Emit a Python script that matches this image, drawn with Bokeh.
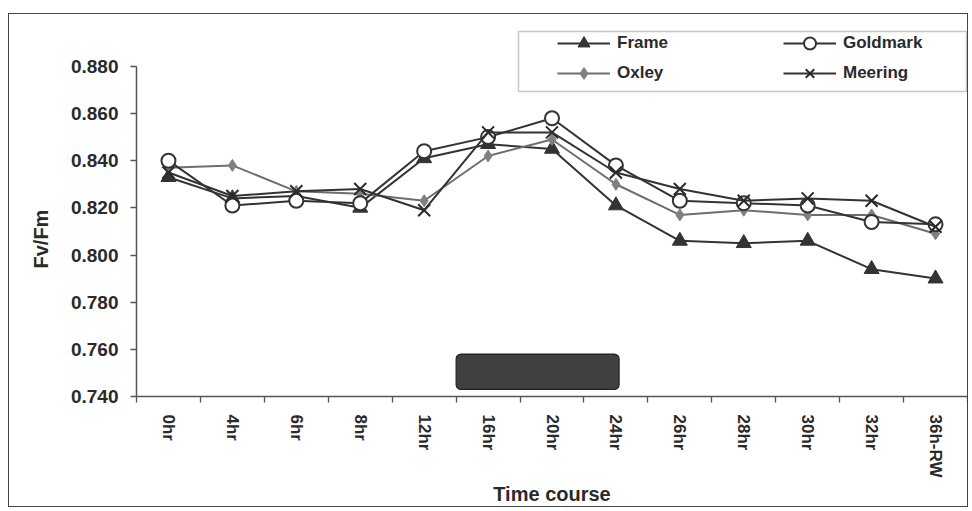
from bokeh.plotting import figure
from bokeh.models import (FixedTicker, PrintfTickFormatter, Legend, LegendItem,
                          BoxAnnotation, Range1d)
from bokeh.embed import file_html
from bokeh.resources import INLINE

# Sampling times (category labels on the x axis)
times = ["0hr", "4hr", "6hr", "8hr", "12hr", "16hr", "20hr", "24hr",
         "26hr", "28hr", "30hr", "32hr", "36h-RW"]

# Fv/Fm for each cultivar
frame = [0.833, 0.824, 0.825, 0.820, 0.841, 0.847, 0.845, 0.821,
         0.806, 0.805, 0.806, 0.794, 0.790]
goldmark = [0.840, 0.821, 0.823, 0.822, 0.844, 0.850, 0.858, 0.838,
            0.823, 0.822, 0.821, 0.814, 0.813]
oxley = [0.837, 0.838, 0.827, 0.826, 0.823, 0.842, 0.849, 0.830,
         0.817, 0.819, 0.817, 0.817, 0.809]
meering = [0.835, 0.825, 0.827, 0.828, 0.819, 0.852, 0.852, 0.835,
           0.828, 0.823, 0.824, 0.823, 0.812]

# Y axis ticks
y_ticks = [0.740, 0.760, 0.780, 0.800, 0.820, 0.840, 0.860, 0.880]

# Stress period bar: from the 12hr/16hr boundary to the 24hr sample
stress_start = 4.5
stress_end = 7.05
stress_low = 0.743
stress_high = 0.758

xs = list(range(len(times)))
FONT = "Liberation Sans"
INK = "#2a2a2a"

# Head-room above 0.880 leaves space for the legend inside the plot area
Y_TOP = 0.8986

p = figure(width=960, height=494, output_backend="svg", toolbar_location=None,
           x_range=Range1d(-0.5, len(times) - 0.5),
           y_range=Range1d(y_ticks[0], Y_TOP),
           min_border_left=127, min_border_right=2,
           min_border_top=8, min_border_bottom=111,
           title="Fv/Fm", title_location="left")
p.styles = {"margin-left": "8px", "margin-top": "13px",
            "border": "1.5px solid #444444"}
p.background_fill_color = "white"
p.border_fill_color = "white"
p.outline_line_color = None
p.grid.visible = False

# y axis title, centred on the 0.740-0.880 span rather than the whole frame
p.title.align = "left"
p.title.offset = 128
p.title.standoff = 28
p.title.vertical_align = "top"
p.title.text_font = FONT
p.title.text_font_style = "bold"
p.title.text_font_size = "20px"
p.title.text_color = INK

# x axis: labels at category centres, tick marks on the boundaries
p.xaxis.ticker = FixedTicker(ticks=xs, minor_ticks=[i - 0.5 for i in range(len(times) + 1)])
p.xaxis.major_label_overrides = {i: t for i, t in enumerate(times)}
p.xaxis.major_label_orientation = "vertical"
p.xaxis.major_tick_out = 0
p.xaxis.major_tick_in = 0
p.xaxis.minor_tick_out = 6
p.xaxis.minor_tick_in = 0
p.xaxis.major_label_standoff = 12
p.xaxis.axis_label = "Time course"
p.xaxis.axis_label_standoff = 3

# y axis, drawn only over the tick span
p.yaxis.ticker = FixedTicker(ticks=y_ticks, minor_ticks=[])
p.yaxis.formatter = PrintfTickFormatter(format="%.3f")
p.yaxis.bounds = (y_ticks[0], y_ticks[-1])
p.yaxis.major_tick_out = 6
p.yaxis.major_tick_in = 0
p.yaxis.major_label_standoff = 12

for ax in (p.xaxis[0], p.yaxis[0]):
    ax.axis_line_color = "#555555"
    ax.axis_line_width = 1.5
    ax.major_tick_line_color = "#555555"
    ax.minor_tick_line_color = "#555555"
    ax.major_tick_line_width = 1.3
    ax.minor_tick_line_width = 1.3
    ax.major_label_text_font = FONT
    ax.major_label_text_font_style = "bold"
    ax.major_label_text_color = INK
    ax.axis_label_text_font = FONT
    ax.axis_label_text_font_style = "bold"
    ax.axis_label_text_color = INK
    ax.axis_label_text_font_size = "20px"
p.xaxis.major_label_text_font_size = "17px"
p.yaxis.major_label_text_font_size = "19px"

# stress period bar
p.quad(left=[stress_start], right=[stress_end], bottom=[stress_low], top=[stress_high],
       fill_color="#404040", line_color="#222222", line_width=1.2, border_radius=5)

# series
r_fl = p.line(xs, frame, line_color="#333333", line_width=2)
r_fm = p.scatter(xs, frame, marker="triangle", size=15, fill_color="#333333",
                 line_color="#333333")
r_ol = p.line(xs, oxley, line_color="#6e6e6e", line_width=2)
r_om = p.scatter(xs, oxley, marker="diamond", size=12, fill_color="#808080",
                 line_color="#808080")
r_gl = p.line(xs, goldmark, line_color="#333333", line_width=2)
r_gm = p.scatter(xs, goldmark, marker="circle", size=14, fill_color="white",
                 line_color="#333333", line_width=2)
r_ml = p.line(xs, meering, line_color="#333333", line_width=2)
r_mm = p.scatter(xs, meering, marker="x", size=17, line_color="#2a2a2a", line_width=2)

# legend box
p.add_layout(BoxAnnotation(left=508, right=956, top=16, bottom=76,
                           left_units="canvas", right_units="canvas",
                           top_units="canvas", bottom_units="canvas",
                           fill_color="white", fill_alpha=1.0,
                           line_color="#444444", line_width=1.5, level="overlay"))


def make_legend(items, loc):
    return Legend(items=items, location=loc, orientation="vertical",
                  glyph_width=53, glyph_height=30, label_height=30,
                  label_standoff=7, spacing=0, padding=0, margin=0,
                  border_line_color=None, background_fill_alpha=0,
                  label_text_font=FONT, label_text_font_style="bold",
                  label_text_font_size="17px", label_text_color=INK)


leg_a = make_legend([LegendItem(label="Frame", renderers=[r_fl, r_fm]),
                     LegendItem(label="Oxley", renderers=[r_ol, r_om])], (421, 308))
leg_b = make_legend([LegendItem(label="Goldmark", renderers=[r_gl, r_gm]),
                     LegendItem(label="Meering", renderers=[r_ml, r_mm])], (647, 308))
p.add_layout(leg_a)
p.add_layout(leg_b)

open("out.html", "w").write(file_html(p, INLINE))
